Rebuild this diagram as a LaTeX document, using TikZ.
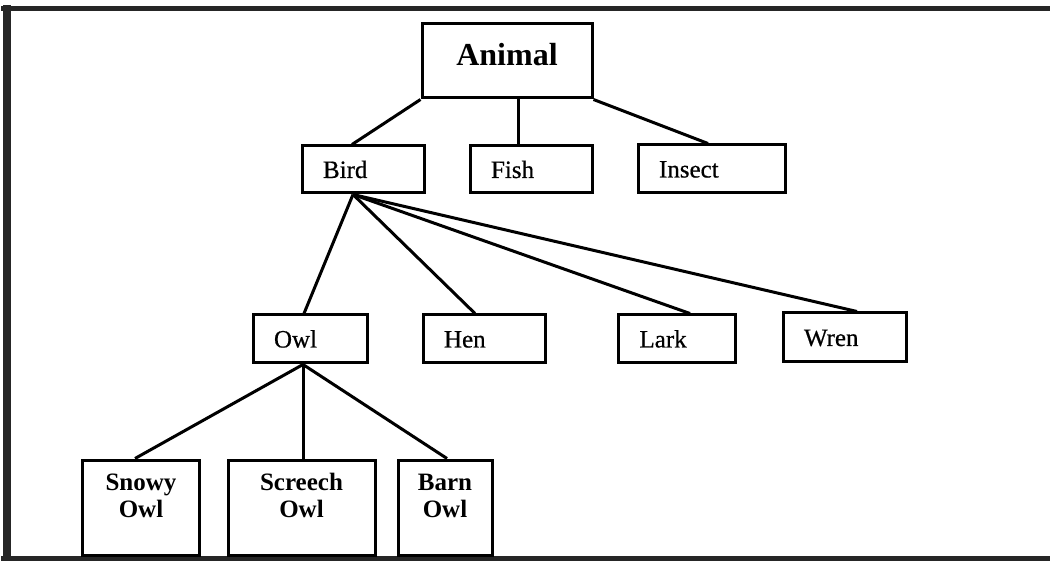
\documentclass[tikz,border=0pt]{standalone}
\usepackage{fontspec}
\setmainfont{Liberation Serif}
\newfontfamily\boxfont[FakeBold=0.6]{Liberation Serif}
\begin{document}
\begin{tikzpicture}[x=1pt,y=-1pt,
  box/.style={draw=black, line width=3pt, rectangle, inner ysep=0pt,
    font=\boxfont\fontsize{25}{26}\selectfont, text height=17pt, text depth=0pt},
  lbox/.style={box, inner xsep=21pt, align=left},
  topbox/.style={box, inner sep=0pt, font=\fontsize{32}{34}\selectfont\bfseries,
    text height=22pt, text depth=12pt},
  leafbox/.style={box, inner sep=0pt, font=\fontsize{25}{27}\selectfont\bfseries,
    align=center, text height=44pt, text depth=25pt},
  link/.style={draw=black, line width=3pt},
  frame/.style={draw=black!85, line cap=rect}]
\useasboundingbox (0,0) rectangle (1050,561);

% outer frame: heavy left rule, top and bottom rules, open on the right
\draw[frame, line width=8pt] (7,561) -- (7,9);
\draw[frame, line width=5pt] (3,9) -- (1050,9);
\draw[frame, line width=5pt] (3,558.5) -- (1050,558.5);

% level 0
\node[topbox, minimum width=170pt, minimum height=74pt] (animal) at (507,61) {Animal};

% level 1
\node[lbox, text width=80pt,  minimum height=47pt] (bird)   at (363,169.5) {Bird};
\node[lbox, text width=80pt,  minimum height=47pt] (fish)   at (531,169.5) {Fish};
\node[lbox, text width=105pt, minimum height=48pt] (insect) at (711.5,169) {Insect};

% level 2
\node[lbox, text width=72pt, minimum height=48pt] (owl)  at (310,339) {Owl};
\node[lbox, text width=80pt, minimum height=48pt] (hen)  at (484,339) {Hen};
\node[lbox, text width=75pt, minimum height=48pt] (lark) at (677,339) {Lark};
\node[lbox, text width=81pt, minimum height=49pt] (wren) at (844.5,337.5) {Wren};

% level 3
\node[leafbox, minimum width=117pt, minimum height=95pt] (snowy)   at (141,507.5) {Snowy\\Owl};
\node[leafbox, minimum width=147pt, minimum height=95pt] (screech) at (301.5,507.5) {Screech\\Owl};
\node[leafbox, minimum width=94pt,  minimum height=95pt] (barn)    at (445,507.5) {Barn\\Owl};

% connectors
\draw[link] (animal.south west) -- ([xshift=-11pt]bird.north);
\draw[link] ([xshift=11pt]animal.south) -- ([xshift=-13pt]fish.north);
\draw[link] (animal.south east) -- ([xshift=-3.5pt]insect.north);

\coordinate (birdfoot) at ([xshift=-10pt]bird.south);
\draw[link] (birdfoot) -- ([xshift=-6pt]owl.north);
\draw[link] (birdfoot) -- ([xshift=-9pt]hen.north);
\draw[link] (birdfoot) -- ([xshift=13pt]lark.north);
\draw[link] (birdfoot) -- ([xshift=12.5pt]wren.north);

\coordinate (owlfoot) at ([xshift=-7pt]owl.south);
\draw[link] (owlfoot) -- ([xshift=-6pt]snowy.north);
\draw[link] (owlfoot) -- ([xshift=1.5pt]screech.north);
\draw[link] (owlfoot) -- ([xshift=2pt]barn.north);
\end{tikzpicture}
\end{document}
